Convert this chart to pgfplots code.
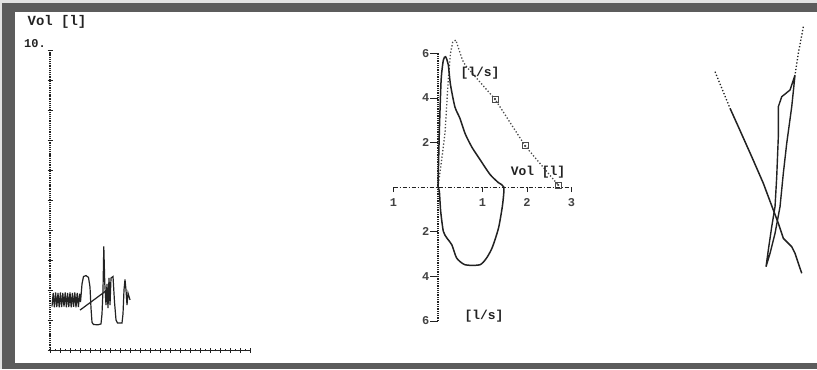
\documentclass[border=0pt]{standalone}
\usepackage{pgfplots}
\pgfplotsset{compat=1.18}
\usepackage{fontspec}
\setmainfont{Liberation Mono}
\definecolor{frame}{HTML}{5C5C5C}
\definecolor{ink}{HTML}{222222}
\definecolor{pred}{HTML}{4A4A4A}

\begin{document}
\begin{tikzpicture}[x=1bp,y=1bp]
\useasboundingbox (0,0) rectangle (817,369);
% page frame
\fill[gray!22] (0,0) rectangle (817,369);
\fill[frame] (2,0.5) rectangle (817,366);
\fill[white] (15,6) rectangle (817,357);

% ---------- volume-time trace ----------
\begin{axis}[
  at={(50bp,19bp)}, anchor=south west, scale only axis,
  width=200bp, height=300bp,
  xmin=0, xmax=20, ymin=0, ymax=10,
  axis lines*=left,
  x axis line style={ink, line width=0.9bp},
  y axis line style={ink, densely dotted, line width=1.2bp},
  xtick={0,...,20}, ytick={0,...,10},
  minor x tick num=1, minor y tick num=1,
  xticklabels={}, yticklabels={},
  tick align=center,
  major tick length=5bp, minor tick length=2.5bp,
  every tick/.style={ink, line width=0.8bp},
  clip=false,
]
\addplot[ink, line width=1.2bp] coordinates {
 (0.2,1.45) (0.32,1.9) (0.44,1.42) (0.56,1.92) (0.68,1.43) (0.8,1.9)
 (0.92,1.42) (1.04,1.92) (1.16,1.43) (1.28,1.9) (1.4,1.45) (1.52,1.92)
 (1.64,1.42) (1.76,1.9) (1.88,1.43) (2.0,1.92) (2.12,1.42) (2.24,1.9)
 (2.36,1.44) (2.48,1.92) (2.6,1.42) (2.72,1.9) (2.84,1.43) (2.96,1.88)
 (3.05,1.6) (3.2,2.2) (3.35,2.45) (3.6,2.48) (3.85,2.42) (4.0,2.1)
 (4.1,1.4) (4.2,0.92) (4.35,0.85) (4.8,0.84) (5.1,0.87) (5.2,1.2)
 (5.3,2.0) (5.38,3.45) (5.48,2.2) (5.6,1.5) (5.7,2.2) (5.8,1.4)
 (5.9,2.4) (6.0,1.5) (6.1,2.4) (6.3,2.45) (6.45,1.6) (6.6,1.0)
 (6.75,0.9) (7.2,0.9) (7.3,1.2) (7.4,2.0) (7.5,2.35) (7.6,2.0)
 (7.7,1.5) (7.8,1.9) (8.0,1.67)
};
\addplot[ink, line width=1.2bp] coordinates {(3.0,1.33) (6.0,2.07)};
\end{axis}

% ---------- flow-volume loop ----------
\begin{axis}[
  at={(393.5bp,48bp)}, anchor=south west, scale only axis,
  width=178bp, height=267.6bp,
  xmin=-1, xmax=3, ymin=-6, ymax=6,
  axis lines*=middle,
  x axis line style={ink, line width=0.9bp, dash pattern=on 4bp off 2bp on 1bp off 2bp},
  y axis line style={ink, densely dotted, line width=1.3bp},
  xtick={-1,1,2,3}, xticklabels={1,1,2,3},
  ytick={-6,-4,-2,2,4,6}, yticklabels={6,4,2,2,4,6},
  tick align=outside,
  xtick style={ink, line width=0.8bp, /pgfplots/major tick length=5bp},
  ytick style={ink, line width=0.8bp, /pgfplots/major tick length=8bp},
  tick label style={font=\fontsize{12}{12}\selectfont\bfseries, text=ink!85},
  xticklabel style={yshift=-4bp},
  yticklabel style={xshift=-1bp},
  clip=false,
]
% predicted expiratory curve
\addplot[pred, dotted, line width=1.3bp] coordinates {
 (0,0) (0.1,1.5) (0.16,2.5) (0.23,4.8) (0.28,6.0) (0.33,6.5) (0.4,6.6)
 (0.45,6.3) (0.55,5.7) (0.62,5.45) (1.28,3.95) (1.96,1.85) (2.7,0.1)
};
\addplot[pred, only marks, mark=square, mark size=3bp, mark options={line width=0.9bp}]
 coordinates {(1.28,3.95) (1.96,1.85) (2.7,0.1)};
\addplot[pred, only marks, mark=*, mark size=0.9bp]
 coordinates {(1.28,3.95) (1.96,1.85) (2.7,0.1)};
% measured loop
\addplot[ink, line width=1.5bp, smooth, tension=0.4] coordinates {
 (0,0) (0.03,2.5) (0.07,4.8) (0.12,5.7) (0.17,5.85) (0.23,5.5)
 (0.28,4.6) (0.38,3.6) (0.49,3.1) (0.61,2.4) (0.76,1.8) (0.94,1.25)
 (1.17,0.57) (1.36,0.2) (1.48,0)
 (1.45,-0.8) (1.36,-1.83) (1.22,-2.7) (1.09,-3.18) (0.94,-3.48)
 (0.61,-3.48) (0.42,-3.18) (0.31,-2.58) (0.2,-2.28) (0.12,-1.98)
 (0.06,-1.08) (0.03,-0.18) (0,0)
};
\end{axis}

% ---------- third trace ----------
\begin{axis}[
  at={(0bp,0bp)}, anchor=south west, scale only axis,
  width=817bp, height=369bp,
  xmin=0, xmax=817, ymin=0, ymax=369, y dir=reverse,
  hide axis, clip=false,
]
\addplot[ink, dotted, line width=1.3bp] coordinates {(715,71.7) (730,108.3)};
\addplot[ink, line width=1.5bp] coordinates {
 (730,108.3) (738.3,126.7) (751.7,156.7) (763.3,183.3) (768.3,196.7)
 (773.3,210) (778.3,223.3) (783.3,238.3) (791.7,246.7) (795,253.3)
 (801.7,273.3)
};
\addplot[ink, dotted, line width=1.3bp] coordinates {(803.3,26.7) (798.3,53.3) (795,75)};
\addplot[ink, line width=1.4bp] coordinates {
 (795,75) (790,90) (781.7,96.7) (778.3,106.7) (778.3,136.7) (776.7,176.7)
 (775,206.7) (771.7,226.7) (768.3,250) (766,266.7) (770,253.3)
 (775,233.3) (780,206.7) (783.3,173.3) (786.7,143.3) (791.7,106.7) (795,75)
};
\end{axis}

% labels
\node[text=ink, font=\fontsize{14}{14}\selectfont\bfseries] at (57,347) {Vol [l]};
\node[text=ink, font=\fontsize{12}{12}\selectfont\bfseries] at (35,325) {10.};
\node[text=ink, font=\fontsize{13}{13}\selectfont\bfseries] at (480,296) {[l/s]};
\node[text=ink, font=\fontsize{13}{13}\selectfont\bfseries] at (538,197) {Vol [l]};
\node[text=ink, font=\fontsize{13}{13}\selectfont\bfseries] at (484,53) {[l/s]};
\end{tikzpicture}
\end{document}
